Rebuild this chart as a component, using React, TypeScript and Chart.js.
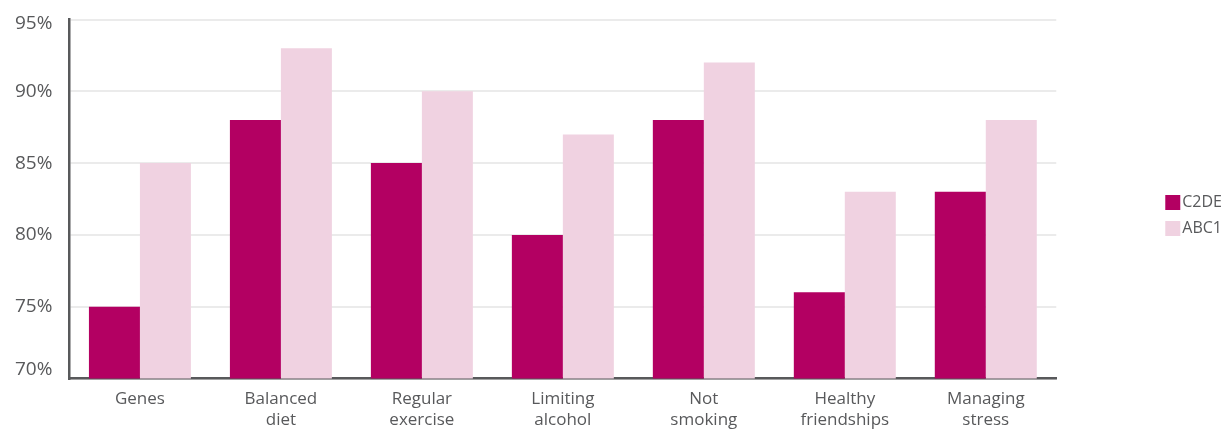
import React, { useEffect, useRef } from "react";
import { Chart, registerables } from "chart.js";

Chart.register(...registerables);

const categories: (string | string[])[] = [
  "Genes",
  ["Balanced", "diet"],
  ["Regular", "exercise"],
  ["Limiting", "alcohol"],
  ["Not", "smoking"],
  ["Healthy", "friendships"],
  ["Managing", "stress"],
];
const c2deValues = [75, 88, 85, 80, 88, 76, 83];
const abc1Values = [85, 93, 90, 87, 92, 83, 88];
const yTicks = [70, 75, 80, 85, 90, 95];

const FONT = "'Open Sans', 'Noto Sans', sans-serif";
const TEXT = "#58595b";
const C2DE = "#b30062";
const ABC1 = "#f0d2e1";

export default function App() {
  const ref = useRef<HTMLCanvasElement | null>(null);
  useEffect(() => {
    if (!ref.current) return;
    const yMin = yTicks[0];
    const yMax = yTicks[yTicks.length - 1];
    const chart = new Chart(ref.current, {
      type: "bar",
      data: {
        labels: categories,
        datasets: [
          { label: "C2DE", data: c2deValues, backgroundColor: C2DE, categoryPercentage: 0.7234, barPercentage: 1 },
          { label: "ABC1", data: abc1Values, backgroundColor: ABC1, categoryPercentage: 0.7234, barPercentage: 1 },
        ],
      },
      options: {
        responsive: false,
        animation: false,
        layout: { padding: { left: 15, top: 19.5, bottom: 0, right: 0 } },
        plugins: {
          tooltip: { enabled: false },
          legend: {
            position: "right",
            fullSize: false,
            title: { display: true, text: " ", font: { size: 10 }, padding: { top: 10, bottom: 11 } },
            labels: {
              boxWidth: 3,
              boxHeight: 3,
              padding: 10,
              color: TEXT,
              font: { family: FONT, size: 16 },
              generateLabels: (c: any) =>
                (Chart.defaults.plugins.legend.labels as any).generateLabels(c).map((l: any) => ({
                  ...l,
                  lineWidth: 12,
                  strokeStyle: l.fillStyle,
                  lineJoin: "miter",
                  lineCap: "butt",
                  lineDash: [],
                  borderRadius: 0,
                  fontColor: TEXT,
                })),
            },
          },
        },
        scales: {
          x: {
            z: 1,
            grid: { display: true, drawOnChartArea: false, drawTicks: true, tickLength: 10, color: "rgba(0,0,0,0)", tickColor: "rgba(0,0,0,0)" },
            border: { display: true, color: TEXT, width: 2.5 },
            ticks: { color: TEXT, font: { family: FONT, size: 17, lineHeight: 1.25 }, padding: 0, maxRotation: 0, autoSkip: false },
          },
          y: {
            min: yMin,
            max: yMax,
            afterBuildTicks: (s: any) => {
              s.ticks = yTicks.map((v) => ({ value: v }));
            },
            grid: { color: "#ebebeb", lineWidth: 2, drawTicks: true, tickLength: 17, tickColor: "rgba(0,0,0,0)" },
            border: { display: true, color: TEXT, width: 2.5 },
            ticks: {
              color: TEXT,
              padding: 0,
              font: (ctx: any) => {
                const v = ctx.tick ? ctx.tick.value : 0;
                return { family: FONT, size: 19, lineHeight: v === yMax ? 0.47 : v === yMin ? 0.93 : 1.2 };
              },
              callback: (v: any) => {
                const s = v + "%";
                if (v === yMax) return ["", s];
                if (v === yMin) return [s, ""];
                return s;
              },
            },
          },
          y2: {
            position: "right",
            display: true,
            grid: { display: false, drawTicks: false },
            border: { display: false },
            ticks: { display: false },
            afterFit: (s: any) => {
              s.width = 105;
            },
          },
        },
      },
    });
    return () => chart.destroy();
  }, []);
  return (
    <div style={{ position: "fixed", left: 0, top: 0, width: 1221, height: 431, overflow: "hidden", background: "#fff" }}>
      <canvas ref={ref} width={1232} height={431} style={{ display: "block" }} />
    </div>
  );
}
